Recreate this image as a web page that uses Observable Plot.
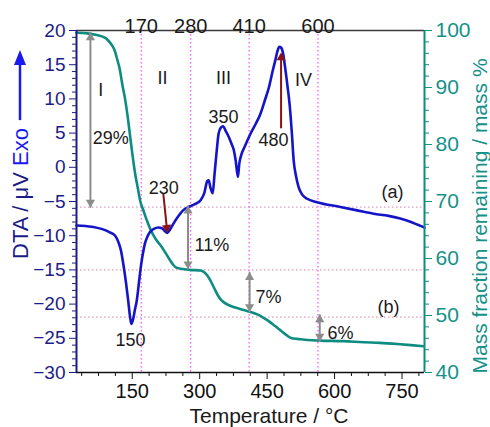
<!DOCTYPE html>
<html><head><meta charset="utf-8">
<script src="https://cdn.jsdelivr.net/npm/d3@7"></script>
<script src="https://cdn.jsdelivr.net/npm/@observablehq/plot@0.6"></script>
<style>body{margin:0;background:#fff} #chart{width:490px;height:427px;overflow:hidden}</style>
</head><body><div id="chart"></div>
<script>
// ---------- data ----------
const dtaTemp  = [26,60,100,112,119,125,130,136,141,145,148,152,156,160,165,169,174,178,184,189,198,208,216,222,228,234,241,252,263,275,289,302,310,317,320,324,329,333,338,342,347,352,358,365,371,376,380,385,388,392,400,413,425,435,445,454,462,468,473,477,481,485,490,495,500,505,509,514,520,528,539,561,613,650,687,720,746,770,785,800];
const dtaValue = [-8.5,-8.7,-9.5,-10.0,-10.9,-12.2,-14.1,-16.8,-19.5,-21.8,-22.9,-22.2,-20.8,-19.5,-16.8,-14.6,-12.5,-11.2,-10.1,-9.5,-9.0,-8.8,-8.9,-9.3,-9.6,-9.1,-8.3,-7.2,-6.3,-5.8,-5.4,-4.8,-3.8,-2.0,-1.9,-3.0,-3.8,-1.0,2.5,4.9,5.8,6.0,5.3,4.4,3.4,2.5,1.0,-1.4,0.5,1.7,3.0,4.9,6.4,7.8,9.8,11.7,14.0,15.6,17.0,17.6,17.5,16.8,14.6,12.0,9.2,5.0,1.0,-1.2,-2.9,-4.0,-4.6,-5.1,-5.8,-6.3,-6.8,-7.1,-7.5,-8.0,-8.4,-8.8];

const tgTemp = [26,50,71,90,97,105,111,117,122,128,134,140,145,150,156,162,168,174,182,190,197,204,212,219,227,234,241,248,258,278,302,310,317,324,331,340,348,354,365,383,400,413,428,442,452,462,472,484,494,505,517,540,568,620,665,700,739,770,798];
const tgMass = [99.6,99.5,99.2,98.7,98.2,97.4,96.5,94.8,93.3,90.5,88.0,84.8,81.6,78.5,75.1,72.5,70.0,68.6,66.8,65.2,64.1,63.2,62.4,61.6,60.6,59.7,58.9,58.4,58.2,58.0,57.9,57.6,57.0,56.1,55.0,53.6,52.7,52.3,51.8,51.3,50.9,50.6,50.2,49.6,49.1,48.5,47.9,47.1,46.5,46.0,45.9,45.7,45.6,45.5,45.3,45.2,45.0,44.8,44.6];

const stageTemps  = [170, 280, 410, 563];
const stageLabels = ["170", "280", "410", "600"];
const guideMass   = [69, 58, 49.7];

const xTicks    = [150, 300, 450, 600, 750];
const dtaTicks  = [-30, -25, -20, -15, -10, -5, 0, 5, 10, 15, 20];
const massTicks = [40, 50, 60, 70, 80, 90, 100];

// mass-loss double arrows: temperature, from mass, to mass
const lossTemp = [57, 274, 411, 567];
const lossFrom = [99.7, 69.3, 57.6, 50.2];
const lossTo   = [68.9, 58.1, 50.6, 45.4];

// peak arrows (DTA units)
const peakX1 = [219, 481];
const peakY1 = [-3.8, 5.7];
const peakX2 = [228, 481];
const peakY2 = [-9.6, 16.8];

// annotation texts
const noteText = ["I", "II", "III", "IV", "29%", "11%", "7%", "6%", "350", "230", "150", "480", "(a)", "(b)"];
const noteTemp = [80, 217, 353, 531, 102, 327, 453, 613, 353, 220, 146, 464, 729, 720];
const noteDTA  = [11.2, 13, 13, 12.7, 4.2, -11.4, -19, -24.2, 7.3, -3, -25.3, 3.9, -3.7, -20.5];

// ---------- helpers ----------
const X_DOMAIN = [26, 800];
const Y_DOMAIN = [-30, 20];
const M_DOMAIN = [40, 100];
const PX_PER_T = 348 / (X_DOMAIN[1] - X_DOMAIN[0]);
const PX_PER_Y = 342 / (Y_DOMAIN[1] - Y_DOMAIN[0]);
const k = (Y_DOMAIN[1] - Y_DOMAIN[0]) / (M_DOMAIN[1] - M_DOMAIN[0]);
const toY = m => Y_DOMAIN[0] + (m - M_DOMAIN[0]) * k;
const fromY = y => M_DOMAIN[0] + (y - Y_DOMAIN[0]) / k;

const R_HEAD = 3.4;
const TIP = 2 * Math.sqrt(Math.PI * R_HEAD * R_HEAD / (3 * Math.sqrt(3)));

const dta = dtaTemp.map((t, i) => ({t, v: dtaValue[i]}));
const tg = tgTemp.map((t, i) => ({t, v: toY(tgMass[i])}));
const stages = stageTemps.map((t, i) => ({t, label: stageLabels[i]}));
const losses = lossTemp.map((t, i) => ({t, y1: toY(lossFrom[i]), y2: toY(lossTo[i])}));
const peaks = peakX1.map((x1, i) => {
  const x2 = peakX2[i], y2 = peakY2[i];
  const rot = 180 - Math.atan2((x2 - x1) * PX_PER_T, (peakY1[i] - y2) * PX_PER_Y) * 180 / Math.PI;
  const a = rot * Math.PI / 180;
  return {x1, y1: peakY1[i], x2, y2, rot,
    cx: x2 - Math.sin(a) * TIP / PX_PER_T,
    cy: y2 - Math.cos(a) * TIP / PX_PER_Y};
});
const notes = noteText.map((s, i) => ({s, t: noteTemp[i], v: noteDTA[i]}));

const minorX = d3.range(0, 801, 37.5).filter(v => v >= X_DOMAIN[0] && !xTicks.includes(v));
const minorY = d3.range(-30, 21, 1).filter(v => !dtaTicks.includes(v));
const minorM = d3.range(40, 101, 2).filter(v => !massTicks.includes(v)).map(toY);

const NAVY = "#1c1c86", BLUE = "#1414c8", TEAL = "#0e8c82", TEALTXT = "#16918a";
const GRAY = "#8c8c8c", RED = "#8b1212", INK = "#1a1a1a";
const FONT = "Arial, 'Liberation Sans', sans-serif";

const plot = Plot.plot({
  width: 490, height: 427,
  marginLeft: 76, marginRight: 66, marginTop: 30, marginBottom: 55,
  style: {fontFamily: FONT, background: "white"},
  x: {domain: X_DOMAIN},
  y: {domain: Y_DOMAIN},
  marks: [
    Plot.ruleY(guideMass.map(toY), {stroke: "#e49ac0", strokeDasharray: "1.5,2.5", strokeWidth: 1.2}),
    Plot.ruleX(stageTemps, {stroke: "#ff4dff", strokeDasharray: "1.5,2.5", strokeWidth: 1.2}),
    Plot.line(tg, {x: "t", y: "v", stroke: TEAL, strokeWidth: 2.6, curve: "monotone-x"}),
    Plot.line(dta, {x: "t", y: "v", stroke: BLUE, strokeWidth: 2.6, curve: "monotone-x"}),
    // loss arrows
    Plot.link(losses, {x1: "t", x2: "t", y1: "y1", y2: "y2", stroke: GRAY, strokeWidth: 2, insetTop: 3, insetBottom: 3}),
    Plot.dot(losses, {x: "t", y: "y1", symbol: "triangle", r: R_HEAD, fill: GRAY, stroke: null, dy: TIP}),
    Plot.dot(losses, {x: "t", y: "y2", symbol: "triangle", r: R_HEAD, fill: GRAY, stroke: null, rotate: 180, dy: -TIP}),
    // peak arrows
    Plot.link(peaks, {x1: "x1", y1: "y1", x2: "cx", y2: "cy", stroke: RED, strokeWidth: 2}),
    Plot.dot(peaks, {x: "cx", y: "cy", symbol: "triangle", r: R_HEAD, fill: RED, stroke: null, rotate: "rot"}),
    // notes
    Plot.text(notes, {x: "t", y: "v", text: "s", fill: INK, fontSize: 18}),
    // frame lines
    Plot.ruleY([20], {stroke: "#3a3a3a", strokeWidth: 1.5}),
    Plot.ruleY([-30], {stroke: "#111", strokeWidth: 1.5}),
    Plot.ruleX([X_DOMAIN[0]], {stroke: NAVY, strokeWidth: 2}),
    Plot.ruleX([X_DOMAIN[1]], {stroke: TEAL, strokeWidth: 2}),
    // axes
    Plot.axisX(xTicks, {anchor: "bottom", tickSize: 7, tickPadding: 4, fontSize: 20, color: "#111", label: null}),
    Plot.axisX(minorX, {anchor: "bottom", tickSize: 4, tickFormat: () => "", color: "#111", label: null}),
    Plot.axisY(dtaTicks, {anchor: "left", tickSize: 7, tickPadding: 4, fontSize: 19, color: NAVY, label: null}),
    Plot.axisY(minorY, {anchor: "left", tickSize: 4, tickFormat: () => "", color: NAVY, label: null}),
    Plot.axisY(massTicks.map(toY), {anchor: "right", tickSize: 7, tickPadding: 4, fontSize: 21, color: TEALTXT,
      tickFormat: d => String(Math.round(fromY(d))), label: null}),
    Plot.axisY(minorM, {anchor: "right", tickSize: 4, tickFormat: () => "", color: TEAL, label: null}),
    // top labels
    Plot.text(stages, {x: "t", text: "label", frameAnchor: "top", dy: -12, fontSize: 20, fill: INK})
  ]
});
document.getElementById("chart").appendChild(plot);

// axis titles
const svg = d3.select(plot);
svg.append("text").attr("x", 269).attr("y", 423).attr("text-anchor", "middle")
  .attr("font-size", 21).attr("fill", INK).attr("font-family", FONT)
  .text("Temperature / °C");
svg.append("text").attr("transform", "translate(487,216) rotate(-90)").attr("text-anchor", "middle")
  .attr("font-size", 21).attr("fill", TEALTXT).attr("font-family", FONT)
  .text("Mass fraction remaining / mass %");
const lt = svg.append("g").attr("transform", "translate(28,259) rotate(-90)")
  .attr("font-family", FONT).attr("font-size", 22).attr("text-anchor", "start");
const t1 = lt.append("text").attr("x", 0).attr("y", 0).attr("fill", NAVY);
t1.append("tspan").text("DTA / μV ");
t1.append("tspan").attr("fill", "#1a1aee").text("Exo");
const len = t1.node().getComputedTextLength();
lt.append("line").attr("x1", len + 8).attr("x2", 196).attr("y1", -8).attr("y2", -8)
  .attr("stroke", "#1a1aee").attr("stroke-width", 2.5);
lt.append("path").attr("d", `M209,-8 L194,-14 L194,-2 Z`).attr("fill", "#1a1aee");
</script>
</body></html>
